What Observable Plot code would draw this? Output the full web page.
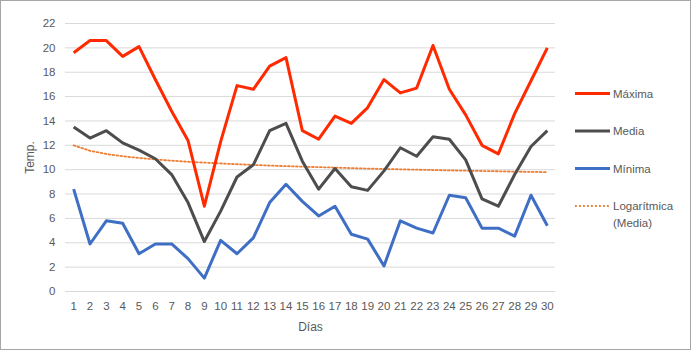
<!DOCTYPE html>
<html><head><meta charset="utf-8">
<script src="https://cdn.jsdelivr.net/npm/d3@7"></script>
<script src="https://cdn.jsdelivr.net/npm/@observablehq/plot@0.6"></script>
<style>body{margin:0;background:#fff}svg{display:block}</style>
</head><body><div id="chart"></div>
<script>
const dias = [1,2,3,4,5,6,7,8,9,10,11,12,13,14,15,16,17,18,19,20,21,22,23,24,25,26,27,28,29,30];
const maxima = [19.6,20.6,20.6,19.3,20.1,17.4,14.8,12.4,7.0,12.3,16.9,16.6,18.5,19.2,13.2,12.5,14.4,13.8,15.1,17.4,16.3,16.7,20.2,16.6,14.5,12.0,11.3,14.6,17.3,20.0];
const media = [13.5,12.6,13.2,12.2,11.6,10.9,9.6,7.3,4.1,6.6,9.4,10.4,13.2,13.8,10.7,8.4,10.1,8.6,8.3,9.9,11.8,11.1,12.7,12.5,10.8,7.6,7.0,9.6,11.9,13.2];
const minima = [8.4,3.9,5.8,5.6,3.1,3.9,3.9,2.7,1.1,4.2,3.1,4.4,7.3,8.8,7.4,6.2,7.0,4.7,4.3,2.1,5.8,5.2,4.8,7.9,7.7,5.2,5.2,4.55,7.9,5.4];
const tendencia = [12.00,11.55,11.29,11.10,10.96,10.84,10.74,10.65,10.58,10.51,10.45,10.39,10.34,10.29,10.25,10.21,10.17,10.13,10.09,10.06,10.03,10.00,9.97,9.94,9.92,9.89,9.87,9.84,9.82,9.80];
const yTicks = [0,2,4,6,8,10,12,14,16,18,20,22];
const series = ["Máxima","Media","Mínima"];
const colores = ["#ff2a00","#4d4d4d","#3f6fc4"];
const colorTend = "#ed7d31";
const labelTend = ["Logarítmica","(Media)"];

const rows = [];
[maxima, media, minima].forEach((arr, k) => arr.forEach((v, i) => rows.push({dia: dias[i], serie: series[k], v})));
const trendRows = tendencia.map((v, i) => ({dia: dias[i], v}));

const font = "'Liberation Sans', Arial, sans-serif";
const chart = Plot.plot({
  width: 695, height: 351,
  marginLeft: 65, marginRight: 140, marginTop: 23, marginBottom: 60,
  style: {fontFamily: font, fontSize: "11.5px", color: "#595959", background: "#fff"},
  x: {domain: [0.5, 30.5]},
  y: {domain: [0, 22]},
  color: {domain: series, range: colores},
  marks: [
    Plot.gridY(yTicks, {stroke: "#d9d9d9", strokeOpacity: 1, strokeWidth: 1}),
    Plot.axisY(yTicks, {tickSize: 0, tickPadding: 10, label: null, fill: "#595959"}),
    Plot.axisX(dias, {tickSize: 0, tickPadding: 10, label: null, tickFormat: d => String(d), fill: "#595959"}),
    Plot.text(["Días"], {frameAnchor: "bottom", lineAnchor: "middle", dy: 36, fill: "#595959", fontSize: 12}),
    Plot.text(["Temp."], {frameAnchor: "left", textAnchor: "middle", lineAnchor: "middle", dx: -35, rotate: -90, fill: "#595959", fontSize: 12}),
    Plot.line(trendRows, {x: "dia", y: "v", stroke: colorTend, strokeWidth: 1.8, strokeDasharray: "1.8,2.2"}),
    Plot.line(rows, {x: "dia", y: "v", z: "serie", stroke: "serie", strokeWidth: 3, strokeLinejoin: "round", strokeLinecap: "butt"})
  ]
});
document.getElementById("chart").appendChild(chart);

const svg = d3.select(chart);
svg.append("rect").attr("x", 0.5).attr("y", 0.5).attr("width", 690).attr("height", 349)
  .attr("fill", "none").attr("stroke", "#a6a6a6").attr("stroke-width", 1);
const lg = svg.append("g").attr("font-family", font).attr("font-size", "11.5px").attr("fill", "#595959").attr("text-anchor", "start");
const ys = [93.5, 131, 168.5];
series.forEach((s, i) => {
  lg.append("line").attr("x1", 575).attr("x2", 610).attr("y1", ys[i]).attr("y2", ys[i])
    .attr("stroke", colores[i]).attr("stroke-width", 3);
  lg.append("text").attr("x", 613).attr("y", ys[i]).attr("dy", "0.35em").text(s);
});
lg.append("line").attr("x1", 575).attr("x2", 610).attr("y1", 206).attr("y2", 206)
  .attr("stroke", colorTend).attr("stroke-width", 1.8).attr("stroke-dasharray", "1.8,2.2");
lg.append("text").attr("x", 613).attr("y", 206).attr("dy", "0.35em").text(labelTend[0]);
lg.append("text").attr("x", 613).attr("y", 222.5).attr("dy", "0.35em").text(labelTend[1]);
</script></body></html>
